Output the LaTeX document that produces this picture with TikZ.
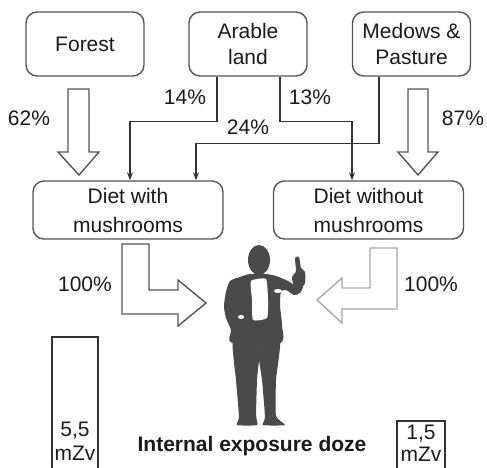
\documentclass[tikz,border=0pt]{standalone}
\usepackage{fontspec}
\setmainfont{Liberation Sans}
\usetikzlibrary{arrows.meta}
\definecolor{boxline}{HTML}{555555}
\definecolor{linkc}{HTML}{333333}
\definecolor{lightarrow}{HTML}{A8A8A8}
\definecolor{figure}{HTML}{4A4A4A}
\definecolor{txt}{HTML}{1A1A1A}
\begin{document}
\begin{tikzpicture}[x=1pt,y=-1pt,
  every node/.style={font=\fontsize{21}{26}\selectfont, inner sep=0pt, text=txt},
  source/.style={draw=boxline, line width=1.4pt, rounded corners=11pt,
    minimum width=118pt, minimum height=64pt, align=center},
  diet/.style={source, minimum width=190pt, minimum height=58pt,
    font=\fontsize{21}{29}\selectfont},
  link/.style={draw=linkc, line width=1.2pt, -{Stealth[length=8pt,width=6pt]}},
  hollow/.style={draw=boxline, line width=1.4pt, line join=miter},
  faint/.style={draw=lightarrow, line width=1.4pt, line join=miter},
  dosebar/.style={draw=linkc, line width=1.2pt},
  dosetext/.style={align=center, font=\fontsize{21}{24}\selectfont},
  silhouette/.style={fill=figure, draw=none}]
\useasboundingbox (0,0) rectangle (487,467);

% sources
\node[source] (forest) at (85,44) {Forest};
\node[source] (arable) at (248,44) {Arable\\land};
\node[source] (medows) at (411.5,44) {Medows \&\\Pasture};

% diets
\node[diet] (dwith) at (128,210) {Diet with\\mushrooms};
\node[diet] (dwo) at (368.5,210) {Diet without\\mushrooms};

% thin flows
\draw[link] ([xshift=-31pt]arable.south) -- ++(0,45) -| ([xshift=2pt]dwith.north);
\draw[link] ([xshift=32pt]arable.south) -- ++(0,45) -| ([xshift=-16.5pt]dwo.north);
\draw[link] ([xshift=-32.5pt]medows.south) -- ++(0,67) -| ([xshift=68pt]dwith.north);

% shares
\node (p62) at (29,118) {62\%};
\node (p14) at (185,97) {14\%};
\node (p13) at (310,97) {13\%};
\node (p24) at (248,127) {24\%};
\node (p87) at (463,118) {87\%};
\node (p100a) at (85,284) {100\%};
\node (p100b) at (431,284) {100\%};

% wide hollow arrows
\draw[hollow] (68,89) -- (89,89) -- (89,152) -- (99,152) -- (79,175)
  -- (58,152) -- (68,152) -- cycle;
\draw[hollow] (408,89) -- (428,89) -- (428,152) -- (438,152) -- (418,175)
  -- (398,152) -- (408,152) -- cycle;
\draw[hollow] (122,244) -- (149,244) -- (149,290) -- (178,290) -- (178,280)
  -- (206,303) -- (178,326) -- (178,314) -- (122,314) -- cycle;
\draw[faint] (370,248) -- (397,248) -- (397,309) -- (342,309) -- (342,323)
  -- (317,300) -- (342,278) -- (342,288) -- (370,288) -- cycle;

% person
\fill[silhouette] (259,260) ellipse[x radius=11, y radius=15];
\fill[silhouette] plot[smooth cycle, tension=0.45] coordinates {
  (250,274) (240,277) (230,281) (226,292) (224,306) (226,318) (231,330)
  (232,343) (280,343) (282,325) (280,305) (281,292) (286,290) (294,295)
  (300,293) (303,286) (296,286) (288,281) (276,276) (266,274)};
\fill[silhouette] plot[smooth cycle, tension=0.4] coordinates {
  (294,286) (292,277) (296,271) (295,258) (299,257) (301,268) (305,272)
  (305,283) (300,289)};
\fill[silhouette] plot[smooth cycle, tension=0.3] coordinates {
  (233,340) (236,380) (239,417) (237,425) (257,425) (256,415) (257,380) (259,345)};
\fill[silhouette] plot[smooth cycle, tension=0.3] coordinates {
  (258,345) (262,380) (265,417) (263,425) (285,425) (276,416) (276,380) (280,340)};
\fill[white] plot[smooth cycle, tension=0.3] coordinates {
  (251,281) (266,279) (268,300) (267,318) (253,320) (252,300)};
\fill[white] (241,317) ellipse[x radius=3, y radius=2];
\fill[white] (278,291) ellipse[x radius=4, y radius=2];

% dose bars
\node[dosebar, minimum width=46pt, minimum height=132pt] (doseA) at (75,403) {};
\node[dosetext, anchor=south] (doseAtxt) at ([yshift=9pt]doseA.south) {5,5\\mZv};
\node[dosebar, minimum width=48pt, minimum height=48pt] (doseB) at (421,445) {};
\node[dosetext, anchor=south, font=\fontsize{21}{22}\selectfont] (doseBtxt)
  at ([yshift=8pt]doseB.south) {1,5\\mZv};

\node[font=\bfseries\fontsize{21}{24}\selectfont] (caption) at (252,446)
  {Internal exposure doze};
\end{tikzpicture}
\end{document}
